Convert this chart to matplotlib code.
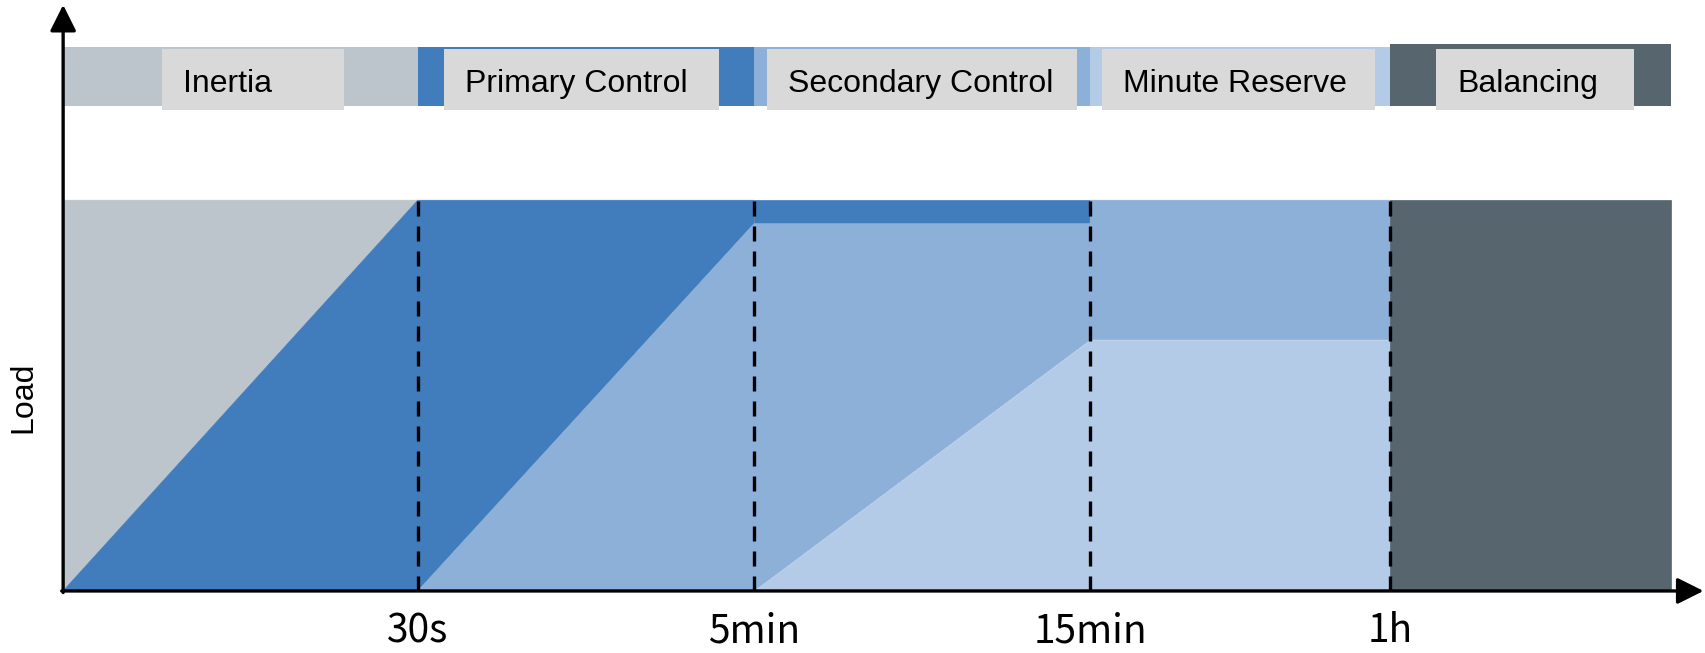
import matplotlib.pyplot as plt
from matplotlib.patches import Rectangle

# schematic time positions of the boundaries (origin, 30s, 5min, 15min, 1h, end)
times = [0.0, 1.0, 1.948, 2.896, 3.742, 4.534]
tick_labels = ['30s', '5min', '15min', '1h']

# load levels (full load = 1)
full_load = 1.0
secondary_level = 0.94
minute_level = 0.643

products = ['Inertia', 'Primary Control', 'Secondary Control', 'Minute Reserve', 'Balancing']
colors = ['#bcc5cc', '#417dbd', '#8db0d9', '#b3cbe6', '#56656e']
box_color = '#d9d9d9'

# label boxes on the top band (left, right in time units)
box_left = [0.279, 1.074, 1.985, 2.929, 3.871]
box_right = [0.791, 1.850, 2.859, 3.699, 4.429]
band_bottom, band_top = 1.242, 1.393

fig = plt.figure(figsize=(17.06, 6.53), dpi=100)
ax = fig.add_axes([0, 0, 1, 1])
ax.set_xlim(-0.178, 4.632)
ax.set_ylim(-0.1588, 1.5125)
ax.axis('off')

t0, t1, t2, t3, t4, t5 = times

# areas, one polygon list per product
polys = [
    [[(t0, 0), (t1, full_load), (t0, full_load)]],
    [[(t0, 0), (t1, 0), (t2, secondary_level), (t2, full_load), (t1, full_load)],
     [(t2, secondary_level), (t3, secondary_level), (t3, full_load), (t2, full_load)]],
    [[(t1, 0), (t2, 0), (t3, minute_level), (t3, full_load), (t4, full_load),
      (t4, minute_level), (t3, minute_level), (t3, secondary_level), (t2, secondary_level)]],
    [[(t2, 0), (t4, 0), (t4, minute_level), (t3, minute_level)]],
    [[(t4, 0), (t5, 0), (t5, full_load), (t4, full_load)]],
]
for shapes, c in zip(polys, colors):
    for p in shapes:
        xs, ys = zip(*p)
        ax.fill(xs, ys, color=c, lw=0.5, ec=c, zorder=1)

# dashed boundaries
for t in times[1:5]:
    ax.plot([t, t], [0, full_load], color='black', lw=2.4, ls=(0, (4.5, 3)), zorder=3)

# top band with label boxes
for i in range(5):
    top = band_top + (0.006 if i == 4 else 0)
    ax.add_patch(Rectangle((times[i], band_bottom), times[i + 1] - times[i], top - band_bottom,
                           color=colors[i], lw=0, zorder=1))
    ax.add_patch(Rectangle((box_left[i], band_bottom - 0.011), box_right[i] - box_left[i],
                           band_top - band_bottom + 0.005, color=box_color, lw=0, zorder=2))
    ax.text(box_left[i] + 0.06, (band_top + band_bottom) / 2 - 0.02, products[i],
            fontsize=23, family='Liberation Sans', ha='left', va='center', zorder=3)

# axes arrows
ax.annotate('', xy=(4.625, 0), xytext=(-0.004, 0),
            arrowprops=dict(arrowstyle='-|>,head_length=0.8,head_width=0.4',
                            mutation_scale=20, lw=2.4, color='black', shrinkA=0, shrinkB=0), zorder=4)
ax.annotate('', xy=(0, 1.50), xytext=(0, -0.004),
            arrowprops=dict(arrowstyle='-|>,head_length=0.8,head_width=0.4',
                            mutation_scale=20, lw=2.4, color='black', shrinkA=0, shrinkB=0), zorder=4)

for t, lab in zip(times[1:5], tick_labels):
    ax.text(t, -0.103, lab, fontsize=28, family='Noto Sans CJK KR', ha='center', va='center')

ax.text(-0.112, 0.496, 'Load', fontsize=23, family='Liberation Sans', rotation=90,
        ha='center', va='center')

fig.savefig('out.png', dpi=100)
